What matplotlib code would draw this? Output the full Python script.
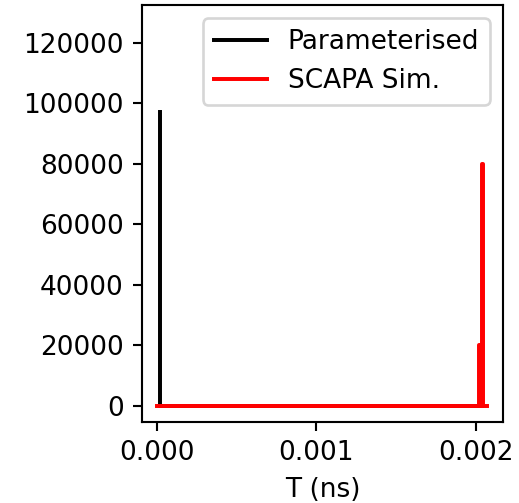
import numpy as np
import matplotlib.pyplot as plt

# time axis values (ns) and counts
t_param = [0.000019, 0.000019, 0.002031]
n_param = [97000, 0, 0]

t_scapa = [0.0, 0.002019, 0.002019, 0.002031, 0.002031, 0.002040,
           0.002040, 0.002047, 0.002047, 0.002069]
n_scapa = [0, 0, 20000, 20000, 0, 0, 80000, 80000, 0, 0]

dpi = 190
fig, ax = plt.subplots(figsize=(519 / dpi, 503 / dpi), dpi=dpi)
fig.subplots_adjust(left=0.2736, right=0.969, top=0.990, bottom=0.161)

ax.plot(t_param, n_param, color='black', label='Parameterised')
ax.plot(t_scapa, n_scapa, color='red', label='SCAPA Sim.')

ax.set_xlim(-0.0000943, 0.00217)
ax.set_ylim(-5300, 132500)
ax.set_xticks([0.0, 0.001, 0.002])
ax.set_yticks(np.arange(0, 120001, 20000))
ax.set_xlabel('T (ns)')
ax.legend(loc='upper right')

fig.savefig('out.png', dpi=dpi)
